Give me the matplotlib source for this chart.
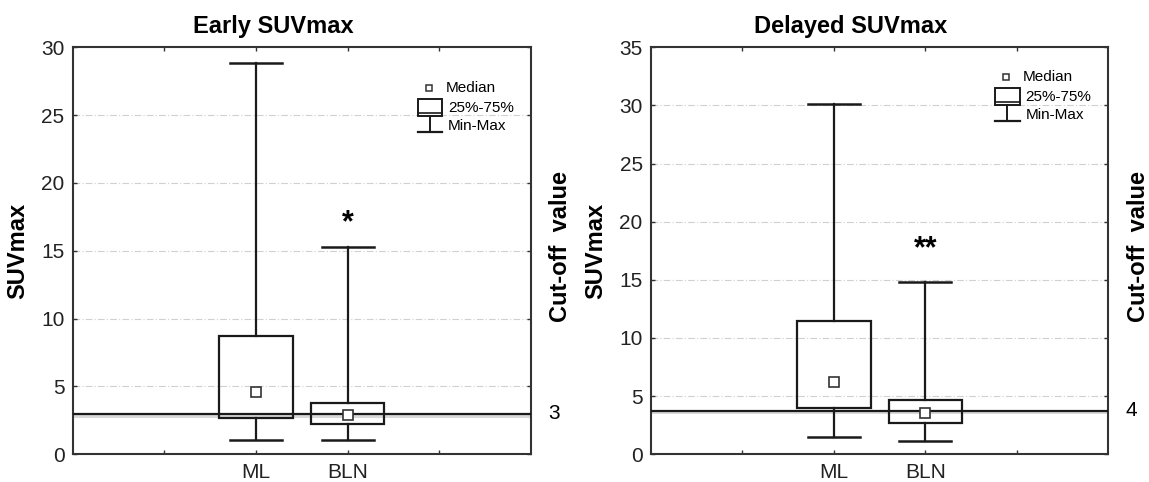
import matplotlib
matplotlib.use('Agg')
import matplotlib.pyplot as plt
from matplotlib.transforms import blended_transform_factory

plt.rcParams['font.family'] = ['Liberation Sans', 'DejaVu Sans']

groups = ['ML', 'BLN']

# early SUVmax: min, q1, median, q3, max
early_min = [1.03, 1.03]
early_q1 = [2.65, 2.21]
early_med = [4.59, 2.90]
early_q3 = [8.70, 3.76]
early_max = [28.87, 15.25]
early_cutoff = 2.97
early_cutoff_label = '3'
early_star = ('*', 17.0)

# delayed SUVmax
delayed_min = [1.51, 1.10]
delayed_q1 = [3.95, 2.70]
delayed_med = [6.24, 3.58]
delayed_q3 = [11.42, 4.70]
delayed_max = [30.13, 14.83]
delayed_cutoff = 3.75
delayed_cutoff_label = '4'
delayed_star = ('**', 17.6)

BOX_W = 0.8
CAP_W = 0.57
LC = '#1a1a1a'


def draw_boxes(ax, mins, q1s, meds, q3s, maxs):
    for i in range(len(groups)):
        ax.add_patch(plt.Rectangle((i - BOX_W / 2, q1s[i]), BOX_W, q3s[i] - q1s[i],
                                   fill=False, ec=LC, lw=1.6, zorder=4))
        ax.plot([i, i], [q3s[i], maxs[i]], color=LC, lw=1.6, zorder=4)
        ax.plot([i, i], [mins[i], q1s[i]], color=LC, lw=1.6, zorder=4)
        ax.plot([i - CAP_W / 2, i + CAP_W / 2], [maxs[i], maxs[i]], color=LC, lw=1.8, zorder=4)
        ax.plot([i - CAP_W / 2, i + CAP_W / 2], [mins[i], mins[i]], color=LC, lw=1.8, zorder=4)
        ax.plot(i, meds[i], 's', ms=6.5, mfc='white', mec='#333333', mew=1.2, zorder=5)


def draw_key(ax, top):
    t = ax.transAxes
    x0, x1 = 0.753, 0.806
    xc = (x0 + x1) / 2
    ax.plot(0.777, top, 's', ms=5, mfc='white', mec='#333333', mew=1.1,
            transform=t, clip_on=False)
    ax.text(0.813, top, 'Median', fontsize=11, va='center', transform=t)
    b_top, b_bot = top - 0.028, top - 0.07
    ax.add_patch(plt.Rectangle((x0, b_bot), x1 - x0, b_top - b_bot, fill=False,
                               ec=LC, lw=1.4, transform=t))
    ax.plot([x0, x1], [b_bot + 0.008, b_bot + 0.008], color=LC, lw=1.2, transform=t)
    ax.plot([xc, xc], [b_bot, top - 0.109], color=LC, lw=1.4, transform=t)
    ax.plot([x0, x1], [top - 0.109, top - 0.109], color=LC, lw=1.6, transform=t)
    ax.text(0.819, top - 0.049, '25%-75%', fontsize=11, va='center', transform=t)
    ax.text(0.819, top - 0.094, 'Min-Max', fontsize=11, va='center', transform=t)


def setup(ax, title, ymax, cutoff, cutoff_label, star, key_top):
    ax.set_xlim(-2, 3)
    ax.set_ylim(0, ymax)
    ax.set_xticks([-1, 0, 1, 2])
    ax.set_xticklabels(['', groups[0], groups[1], ''])
    ax.set_yticks(range(0, ymax + 1, 5))
    ax.tick_params(direction='in', length=3, width=1, top=True, right=True,
                   labelsize=15, pad=6, colors='#333333', labelcolor='#222222')
    for s in ax.spines.values():
        s.set_linewidth(1.5)
        s.set_color('#333333')
    for v in range(5, ymax, 5):
        ax.axhline(v, color='#d0d0d0', lw=0.8, ls=(0, (6, 2, 1, 2)), zorder=1)
    # cut-off line with grey shadow below
    ax.axhspan(cutoff - 0.3, cutoff, color='#d9d9d9', lw=0, zorder=2)
    ax.axhline(cutoff, color=LC, lw=1.6, zorder=3)
    trans = blended_transform_factory(ax.transAxes, ax.transData)
    ax.text(1.037, cutoff, cutoff_label, fontsize=15, ha='left', va='center', transform=trans)
    ax.text(1.065, 0.51, 'Cut-off  value', fontsize=17, fontweight='bold', rotation=90,
            ha='center', va='center', transform=ax.transAxes)
    ax.text(1, star[1], star[0], fontsize=22, fontweight='bold', ha='center', va='center')
    ax.text(0.437, 1.052, title, fontsize=17, fontweight='bold', ha='center', va='center',
            transform=ax.transAxes)
    ax.set_ylabel('SUVmax', fontsize=17, fontweight='bold')
    ax.yaxis.set_label_coords(-0.095, 0.5)
    draw_key(ax, key_top)


fig = plt.figure(figsize=(11.49, 4.82), dpi=100)
ax1 = fig.add_axes([0.0633, 0.0575, 0.3989, 0.8444])
ax2 = fig.add_axes([0.5666, 0.0575, 0.398, 0.8444])

draw_boxes(ax1, early_min, early_q1, early_med, early_q3, early_max)
setup(ax1, 'Early SUVmax', 30, early_cutoff, early_cutoff_label, early_star, 0.901)

draw_boxes(ax2, delayed_min, delayed_q1, delayed_med, delayed_q3, delayed_max)
setup(ax2, 'Delayed SUVmax', 35, delayed_cutoff, delayed_cutoff_label, delayed_star, 0.928)

fig.savefig('out.png', dpi=100)
